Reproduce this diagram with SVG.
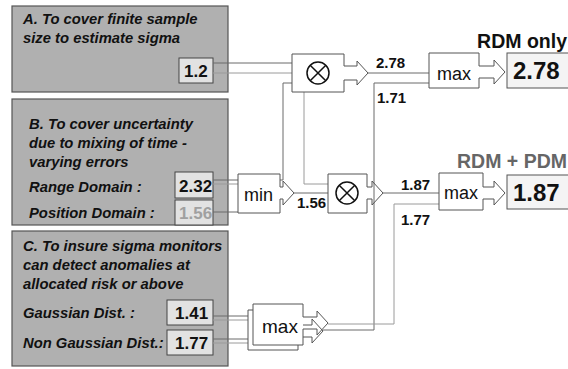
<svg xmlns="http://www.w3.org/2000/svg" width="568" height="369" viewBox="0 0 568 369">
<defs>
<style>
.panel{fill:#b0b0b0;stroke:#555;stroke-width:1.2}
.val{fill:#e2e2e2;stroke:#444;stroke-width:1}
.body{fill:#fff;stroke:none}
.out{fill:none;stroke:#555;stroke-width:1}
.res{fill:#f4f4f4;stroke:#555;stroke-width:1}
.con{fill:none;stroke:#6a6a6a;stroke-width:1}
.con2{fill:none;stroke:#9a9a9a;stroke-width:1}
.pt{font-family:"Liberation Sans",Arial,sans-serif;font-size:14.8px;font-weight:bold;font-style:italic;fill:#111}
.vt{font-family:"Liberation Sans",Arial,sans-serif;font-size:17px;font-weight:bold;fill:#111}
.lab{font-family:"Liberation Sans",Arial,sans-serif;font-size:15px;font-weight:bold;fill:#111}
.op{font-family:"Liberation Sans",Arial,sans-serif;font-size:18px;fill:#111}
.big{font-family:"Liberation Sans",Arial,sans-serif;font-size:24px;font-weight:bold;fill:#111}
.ttl{font-family:"Liberation Sans",Arial,sans-serif;font-size:19.5px;font-weight:bold}
.x{fill:none;stroke:#111;stroke-width:1.5}
</style>
</defs>
<rect width="568" height="369" fill="#fff"/>

<g id="panelA">
<rect class="panel" x="12" y="6" width="216" height="86"/>
<text class="pt" x="23" y="24">A. To cover finite sample</text>
<text class="pt" x="23" y="43">size to estimate sigma</text>
<rect class="val" x="179" y="58" width="34" height="25"/>
<text class="vt" x="184" y="77">1.2</text>
</g>

<g id="panelB">
<rect class="panel" x="12" y="99" width="216" height="126"/>
<text class="pt" x="29" y="129">B. To cover uncertainty</text>
<text class="pt" x="29" y="148">due to mixing of time -</text>
<text class="pt" x="29" y="167">varying errors</text>
<text class="pt" x="29" y="192">Range Domain :</text>
<text class="pt" x="29" y="218">Position Domain :</text>
<rect class="val" x="175" y="172" width="38" height="26"/>
<text class="vt" x="179" y="192">2.32</text>
<rect class="val" x="175" y="200" width="38" height="25"/>
<text class="vt" x="179" y="219" style="fill:#a0a0a0">1.56</text>
</g>

<g id="panelC">
<rect class="panel" x="12" y="231" width="216" height="135"/>
<text class="pt" x="23" y="251">C. To insure sigma monitors</text>
<text class="pt" x="23" y="270">can detect anomalies at</text>
<text class="pt" x="23" y="289">allocated risk or above</text>
<text class="pt" x="23" y="318">Gaussian Dist. :</text>
<text class="pt" x="23" y="348">Non Gaussian Dist.:</text>
<rect class="val" x="167" y="300" width="46" height="25"/>
<text class="vt" x="175" y="319">1.41</text>
<rect class="val" x="167" y="330" width="46" height="25"/>
<text class="vt" x="175" y="349">1.77</text>
</g>

<g id="connectors">
<path class="con" d="M213,63 H292"/>
<path class="con2" d="M213,73 H304 V184 H328"/>
<path class="con" d="M213,180 H283 V83 H292"/>
<path class="con2" d="M213,184 H238"/>
<path class="con" d="M213,212 H238"/>
<path class="con" d="M294,193 H328"/>
<path class="con" d="M368,73 H429"/>
<path class="con" d="M429,83 H374 V330 H323"/>
<path class="con" d="M383,193 H439"/>
<path class="con2" d="M439,204 H394 V324 H328"/>
<path class="con" d="M213,316 H253"/>
<path class="con2" d="M213,320 H248"/>
<path class="con" d="M213,339 H248"/>
<path class="con2" d="M213,343 H253"/>
</g>

<g id="mul1">
<rect class="body" x="292" y="54" width="52" height="38"/>
<path class="out" d="M292,54 H344 V66 H357 V61 L368,73 L357,85 V80 H344 V92 H292 Z"/>
<circle class="x" cx="318" cy="73" r="11"/>
<path class="x" d="M310.2,65.2 L325.8,80.8 M325.8,65.2 L310.2,80.8"/>
</g>

<g id="min">
<rect class="body" x="238" y="174" width="42" height="39"/>
<path class="out" d="M238,174 H280 V187 H283 V181 L294,193 L283,205 V199 H280 V213 H238 Z"/>
<text class="op" x="244" y="201">min</text>
</g>

<g id="mul2">
<rect class="body" x="328" y="174" width="39" height="39"/>
<path class="out" d="M328,174 H367 V187 H372 V181 L383,193 L372,205 V199 H367 V213 H328 Z"/>
<circle class="x" cx="347" cy="193" r="11"/>
<path class="x" d="M339.2,185.2 L354.8,200.8 M354.8,185.2 L339.2,200.8"/>
</g>

<g id="max1">
<rect class="body" x="429" y="53" width="50" height="35"/>
<path class="out" d="M429,53 H479 V66 H494 V60 L505,72 L494,84 V78 H479 V88 H429 Z"/>
<text class="op" x="437" y="80">max</text>
</g>

<g id="max2">
<rect class="body" x="439" y="173" width="44" height="37"/>
<path class="out" d="M439,173 H483 V187 H494 V181 L505,193 L494,205 V199 H483 V210 H439 Z"/>
<text class="op" x="444" y="199">max</text>
</g>

<g id="max3">
<rect class="body" x="248" y="310" width="50" height="40"/>
<path class="out" d="M248,310 H298 V325 H312 V319 L323,331 L312,343 V337 H298 V350 H248 Z"/>
<rect class="body" x="253" y="304" width="50" height="41"/>
<path class="out" d="M253,304 H303 V317 H317 V311 L328,323 L317,335 V329 H303 V345 H253 Z"/>
<text class="op" x="262" y="333" style="font-size:19px">max</text>
</g>

<g id="labels">
<text class="lab" x="376" y="68">2.78</text>
<text class="lab" x="377" y="103">1.71</text>
<text class="lab" x="297" y="208">1.56</text>
<text class="lab" x="401" y="190">1.87</text>
<text class="lab" x="401" y="225">1.77</text>
</g>

<g id="rdm">
<text class="ttl" x="567" y="48" text-anchor="end" fill="#111">RDM only</text>
<rect class="res" x="507" y="53" width="70" height="35"/>
<text class="big" x="513" y="79">2.78</text>
</g>

<g id="rdmpdm">
<text class="ttl" x="567" y="168" text-anchor="end" fill="#666">RDM + PDM</text>
<rect class="res" x="507" y="175" width="70" height="34"/>
<text class="big" x="513" y="201">1.87</text>
</g>
</svg>
